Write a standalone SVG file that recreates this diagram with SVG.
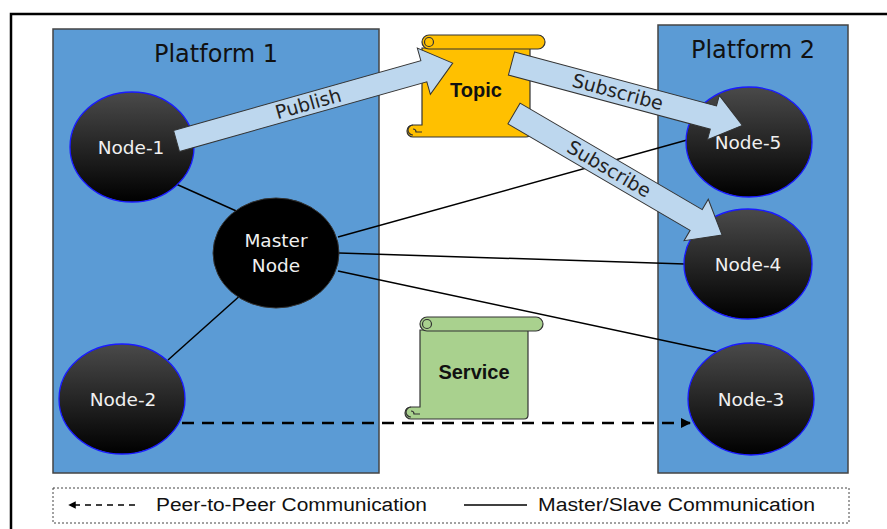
<svg xmlns="http://www.w3.org/2000/svg" width="887" height="529" viewBox="0 0 887 529">
<defs>
<linearGradient id="ng" x1="0" y1="0" x2="0" y2="1">
<stop offset="0" stop-color="#4a4a4a"/>
<stop offset="1" stop-color="#000"/>
</linearGradient>
<marker id="ah" viewBox="0 0 10 10" refX="9" refY="5" markerWidth="4" markerHeight="4" orient="auto-start-reverse" markerUnits="strokeWidth">
<path d="M0,0 L10,5 L0,10 Z" fill="#000"/>
</marker>
<marker id="ahs" viewBox="0 0 10 10" refX="9" refY="5" markerWidth="5" markerHeight="5" orient="auto-start-reverse" markerUnits="strokeWidth">
<path d="M0,0 L10,5 L0,10 Z" fill="#000"/>
</marker>
<g id="scroll">
<path d="M15,13 H123 V98 Q123,102 119,102 H6 A6,6 0 0 1 6,90 H15 Z"/>
<path d="M22,0 H131 A7,7 0 0 1 131,14 H22 A7,7 0 0 1 22,0 Z"/>
<circle cx="22" cy="7" r="4.5"/>
<path d="M6,90 A5,5 0 0 0 6,100 M6,94 A3,3 0 0 1 9,97 L15,97" fill="none"/>
</g>
</defs>
<style>
.plat{fill:#5B9BD5;stroke:#444;stroke-width:1.5}
.ptxt{font-family:"DejaVu Sans",sans-serif;font-size:24px;fill:#111;text-anchor:middle}
.node{fill:url(#ng);stroke:#1a1aff;stroke-width:1.3}
.ntxt{font-family:"DejaVu Sans",sans-serif;font-size:18.5px;fill:#f0f0f0;text-anchor:middle}
.ml{stroke:#000;stroke-width:1.5;fill:none}
.barrow{fill:#BDD7EE;stroke:#333;stroke-width:1}
.atxt{font-family:"DejaVu Sans",sans-serif;font-size:19px;fill:#222;text-anchor:middle}
.stxt{font-family:"Liberation Sans",sans-serif;font-weight:bold;font-size:20px;fill:#111;text-anchor:middle}
.ltxt{font-family:"Liberation Sans",sans-serif;font-size:18px;fill:#111}
.scr{stroke:#333;stroke-width:1.2}
</style>
<rect width="887" height="529" fill="#fff"/>
<path d="M11,529 V14 H887" fill="none" stroke="#000" stroke-width="2.5"/>

<g id="platform1">
<rect class="plat" x="53" y="29" width="326" height="444"/>
<text class="ptxt" x="216" y="62">Platform 1</text>
</g>
<g id="platform2">
<rect class="plat" x="658" y="25" width="190" height="448"/>
<text class="ptxt" x="753" y="58">Platform 2</text>
</g>

<g id="topic">
<use href="#scroll" x="407" y="35" fill="#FFC000" class="scr"/>
<text class="stxt" x="476" y="97">Topic</text>
</g>
<g id="service">
<use href="#scroll" x="405" y="317" fill="#A9D18E" class="scr"/>
<text class="stxt" x="474" y="379">Service</text>
</g>

<g id="connectors">
<line class="ml" x1="176" y1="184" x2="243" y2="214"/>
<line class="ml" x1="243" y1="293" x2="168" y2="360"/>
<line class="ml" x1="338" y1="237" x2="687" y2="140"/>
<line class="ml" x1="339" y1="253" x2="685" y2="264"/>
<line class="ml" x1="338" y1="271" x2="722" y2="353"/>
<line x1="182" y1="423" x2="690" y2="423" stroke="#000" stroke-width="2.5" stroke-dasharray="12,8" marker-end="url(#ah)"/>
</g>

<g id="node1">
<ellipse class="node" cx="132" cy="147" rx="62" ry="55"/>
<text class="ntxt" x="131" y="154">Node-1</text>
</g>
<g id="master">
<ellipse cx="276" cy="253" rx="63" ry="55" fill="#000" stroke="#333" stroke-width="1"/>
<text class="ntxt" x="276" y="247">Master</text>
<text class="ntxt" x="276" y="272">Node</text>
</g>
<g id="node2">
<ellipse class="node" cx="122" cy="399" rx="63" ry="55"/>
<text class="ntxt" x="123" y="406">Node-2</text>
</g>
<g id="node5">
<ellipse class="node" cx="749" cy="142" rx="63" ry="55"/>
<text class="ntxt" x="748" y="149">Node-5</text>
</g>
<g id="node4">
<ellipse class="node" cx="748" cy="264" rx="64" ry="55"/>
<text class="ntxt" x="748" y="271">Node-4</text>
</g>
<g id="node3">
<ellipse class="node" cx="751" cy="399" rx="63" ry="56"/>
<text class="ntxt" x="751" y="406">Node-3</text>
</g>

<g id="pubsub">
<g transform="translate(176.5,141) rotate(-15.75)">
<polygon class="barrow" points="0,-11 257,-11 257,-24 287,0 257,24 257,11 0,11"/>
<text class="atxt" x="137" y="6.5">Publish</text>
</g>
<g transform="translate(511.5,63.5) rotate(15)">
<polygon class="barrow" points="0,-12 209,-12 209,-23 239,0 209,23 209,12 0,12"/>
<text class="atxt" x="110" y="6.5">Subscribe</text>
</g>
<g transform="translate(514,113.5) rotate(30.3)">
<polygon class="barrow" points="0,-12 211,-12 211,-24 241,0 211,24 211,12 0,12"/>
<text class="atxt" x="110" y="6.5">Subscribe</text>
</g>
</g>

<g id="legend">
<rect x="53" y="488" width="796" height="35" fill="none" stroke="#444" stroke-width="1" stroke-dasharray="2,2"/>
<line x1="135" y1="505" x2="69" y2="505" stroke="#000" stroke-width="1.5" stroke-dasharray="6,5" marker-end="url(#ahs)"/>
<text class="ltxt" x="156" y="511" textLength="271" lengthAdjust="spacingAndGlyphs">Peer-to-Peer Communication</text>
<line x1="464" y1="505" x2="527" y2="505" stroke="#000" stroke-width="1.5"/>
<text class="ltxt" x="538" y="511" textLength="277" lengthAdjust="spacingAndGlyphs">Master/Slave Communication</text>
</g>
</svg>
